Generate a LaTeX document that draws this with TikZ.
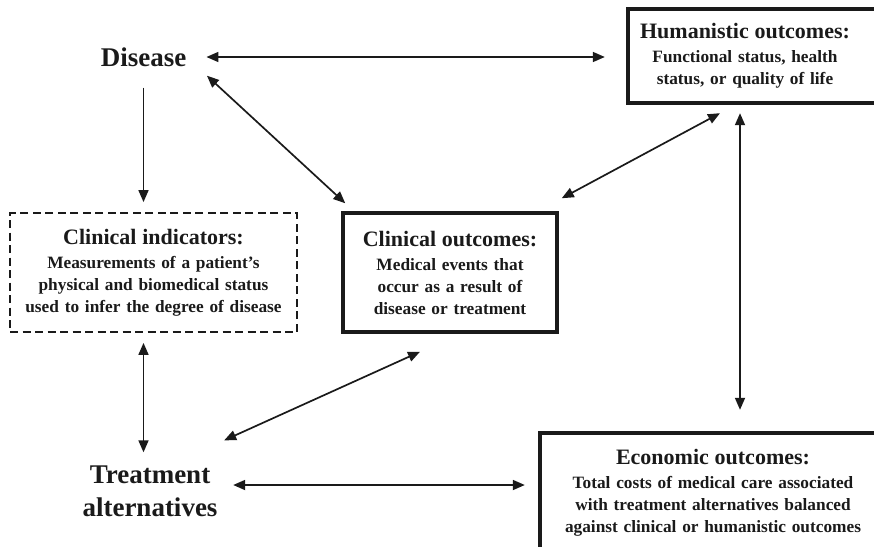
\documentclass[tikz,border=0pt]{standalone}
\usepackage{fontspec}
\setmainfont{Liberation Serif}
\usetikzlibrary{arrows.meta,calc}
\definecolor{ink}{RGB}{26,26,26}
% heading line of a framed panel
\newcommand\panelhead[1]{{\fontsize{22}{25}\selectfont #1}\\[2pt]}
\begin{document}
\begin{tikzpicture}[x=1pt,y=-1pt,
  every node/.style={text=ink, inner sep=0pt},
  link/.style={draw=ink, line width=1.7pt,
    {Triangle[length=12pt,width=10pt]}-{Triangle[length=12pt,width=10pt]}},
  oneway/.style={draw=ink, line width=1.7pt, -{Triangle[length=12pt,width=10pt]}},
  bigterm/.style={font=\bfseries\fontsize{27}{33}\selectfont, align=center},
  panel/.style={align=center, font=\bfseries\fontsize{17.3}{22}\selectfont},
  frame/.style={draw=ink, line width=3.5pt},
  dashframe/.style={draw=ink, line width=1.8pt, dash pattern=on 8pt off 4.5pt},
]
\useasboundingbox (0,0) rectangle (874,546);
\clip (0,0) rectangle (874,546);

% plain terms
\node (dis) at (143.5,57) [bigterm] {Disease};
\node (tre) at (150,491) [bigterm] {Treatment\\alternatives};

% panels
\node (ci) at (153.5,272.5) [panel, dashframe, text width=282pt,
  minimum width=287pt, minimum height=119pt]
  {\panelhead{Clinical indicators:}Measurements of a patient’s\\
   physical and biomedical status\\used to infer the degree of disease};
\node (co) at (450,272.5) [panel, frame, text width=208pt,
  minimum width=214pt, minimum height=119pt]
  {\panelhead{Clinical outcomes:}Medical events that\\
   occur as a result of\\disease or treatment};
\node (hum) at (745,56) [panel, text width=232pt,
  minimum width=234pt, minimum height=94pt]
  {\panelhead{Humanistic outcomes:}Functional status, health\\
   status, or quality of life};
\draw[frame] ($(hum.north east)+(40,0)$) -- (hum.north west)
  -- (hum.south west) -- ($(hum.south east)+(40,0)$);
\node (eco) at (713,493) [panel, text width=340pt,
  minimum width=346pt, minimum height=120pt]
  {\panelhead{Economic outcomes:}Total costs of medical care associated\\
   with treatment alternatives balanced\\against clinical or humanistic outcomes};
\draw[frame] ($(eco.south west)+(0,20)$) -- (eco.north west)
  -- ($(eco.north east)+(20,0)$);

% connectors
\draw[link, shorten <=20pt, shorten >=23pt] (dis.east) -- (dis.east -| hum.west);
\draw[oneway, shorten <=21pt, shorten >=10pt] (dis.south) -- (dis.south |- ci.north);
\draw[link] ([shift={(20.5,9)}]dis.south east) -- ([shift={(4,-8)}]co.north west);
\draw[link, shorten <=10pt, shorten >=13pt] (ci.south -| dis.south) -- (tre.north -| dis.south);
\draw[link] ([shift={(6.5,-25)}]tre.north east) -- ([shift={(-30,18)}]co.south);
\draw[link, shorten >=15pt] ([shift={(15.5,-6)}]tre.east) -- ($(tre.east -| eco.west)+(0,-6)$);
\draw[link] ([shift={(3,-13)}]co.north east) -- ([shift={(-25,10)}]hum.south);
\draw[link] ([shift={(-5,10)}]hum.south) -- ($(eco.north)+(27,-23)$);
\end{tikzpicture}
\end{document}
